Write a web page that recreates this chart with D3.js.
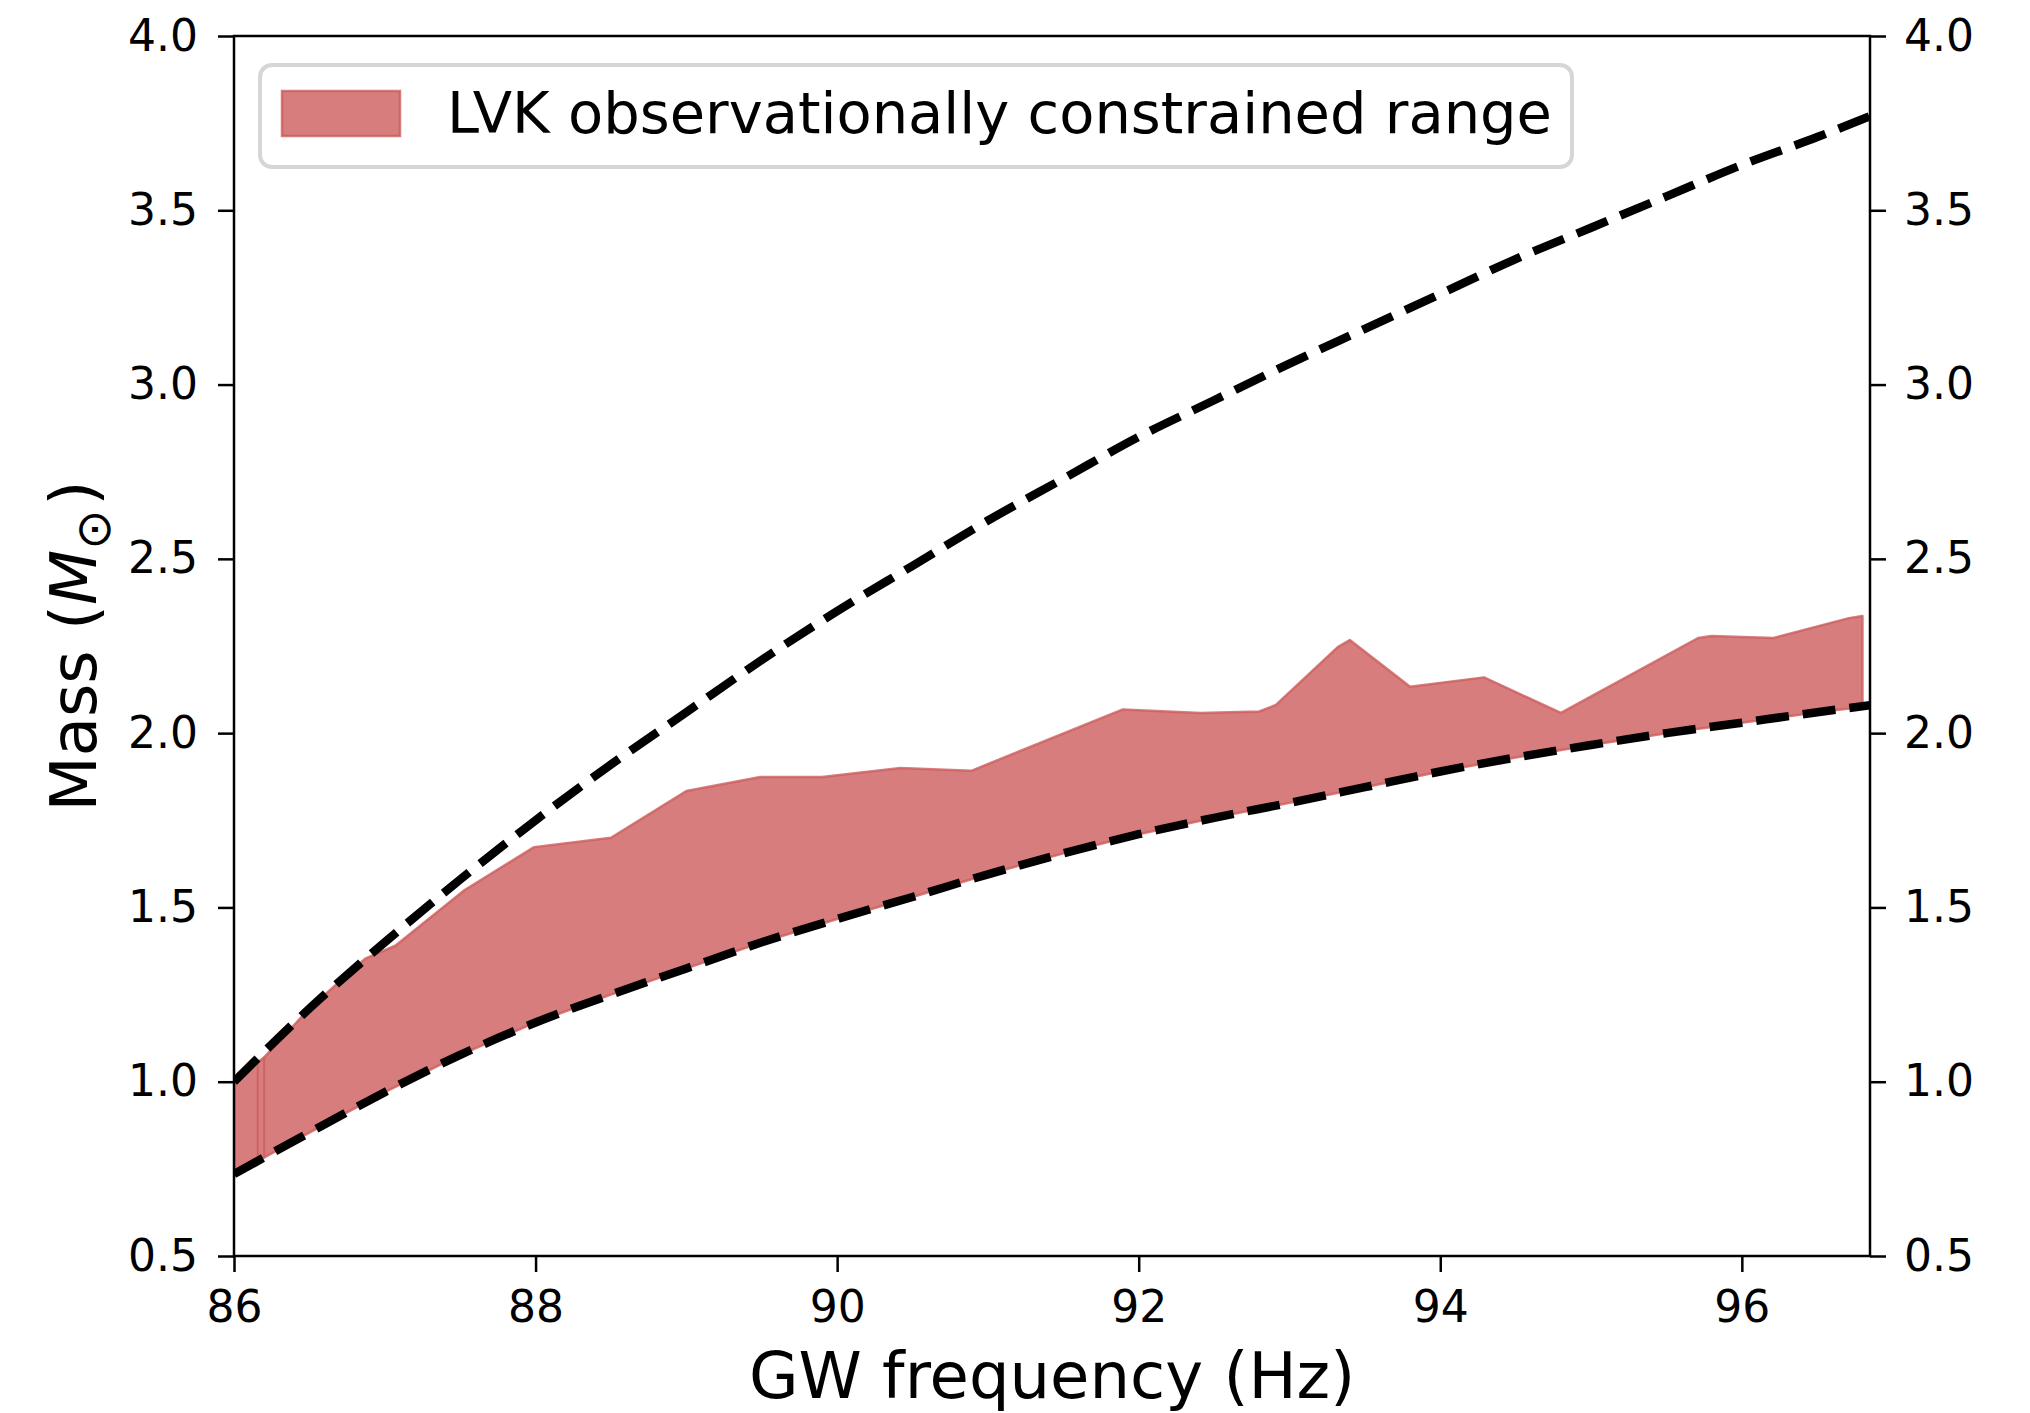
<!DOCTYPE html>
<html>
<head>
<meta charset="utf-8">
<script src="https://cdn.jsdelivr.net/npm/d3@7"></script>
<style>
  body { margin: 0; background: #fff; }
  text { font-family: "DejaVu Sans", sans-serif; fill: #000; }
</style>
</head>
<body>
<div id="chart"></div>
<script>
// axis ticks
const freqTicks = [86, 88, 90, 92, 94, 96];
const massTicks = [0.5, 1.0, 1.5, 2.0, 2.5, 3.0, 3.5, 4.0];

// upper dashed curve
const upperFreq = [86.0, 86.5, 87.0, 87.5, 88.0, 88.5, 89.0, 89.5, 90.0, 90.5, 91.0, 91.5, 92.0, 92.5, 93.0, 93.5, 94.0, 94.5, 95.0, 95.5, 96.0, 96.5, 96.85];
const upperMass = [1.00, 1.21, 1.40, 1.58, 1.75, 1.91, 2.06, 2.21, 2.35, 2.48, 2.61, 2.73, 2.85, 2.955, 3.06, 3.16, 3.26, 3.36, 3.45, 3.54, 3.63, 3.71, 3.77];

// lower dashed curve
const lowerFreq = [86.0, 86.5, 87.0, 87.5, 88.0, 88.5, 89.0, 89.5, 90.0, 90.5, 91.0, 91.5, 92.0, 92.5, 93.0, 93.5, 94.0, 94.5, 95.0, 95.5, 96.0, 96.5, 96.85];
const lowerMass = [0.735, 0.854, 0.97, 1.077, 1.17, 1.25, 1.325, 1.40, 1.467, 1.53, 1.595, 1.655, 1.71, 1.757, 1.80, 1.845, 1.89, 1.93, 1.966, 2.00, 2.03, 2.06, 2.08];

// LVK band, top edge
const bandTopFreq = [86.0, 86.2, 86.5, 86.87, 87.07, 87.53, 87.99, 88.5, 89.0, 89.49, 89.9, 90.42, 90.89, 91.895, 92.41, 92.8, 92.91, 93.32, 93.4, 93.8, 94.29, 94.8, 95.71, 95.8, 96.21, 96.71, 96.8];
const bandTopMass = [1.00, 1.07, 1.21, 1.353, 1.39, 1.55, 1.673, 1.70, 1.834, 1.874, 1.874, 1.90, 1.892, 2.068, 2.058, 2.062, 2.081, 2.247, 2.267, 2.133, 2.160, 2.058, 2.273, 2.279, 2.273, 2.330, 2.336];

// LVK band, bottom edge
const bandBottomFreq = [86.0, 86.5, 87.0, 87.5, 88.0, 88.5, 89.0, 89.5, 90.0, 90.5, 91.0, 91.5, 92.0, 92.5, 93.0, 93.5, 94.0, 94.5, 95.0, 95.5, 96.0, 96.5, 96.8];
const bandBottomMass = [0.735, 0.854, 0.97, 1.077, 1.17, 1.25, 1.325, 1.40, 1.467, 1.53, 1.595, 1.655, 1.71, 1.757, 1.80, 1.845, 1.89, 1.93, 1.966, 2.00, 2.03, 2.06, 2.075];

// seams in the band near the start
const seamFreq = [86.157, 86.2];

const legendLabel = "LVK observationally constrained range";

const width = 2030;
const height = 1413;
const margin = { left: 234, right: 1870, top: 36, bottom: 1256 };

const x = d3.scaleLinear().domain([86, 96.85]).range([margin.left, margin.right]);
const y = d3.scaleLinear().domain([0.5, 4.0]).range([margin.bottom, margin.top]);

const svg = d3.select("#chart")
  .append("svg")
  .attr("width", width)
  .attr("height", height);

svg.append("defs").append("clipPath")
  .attr("id", "plotClip")
  .append("rect")
  .attr("x", margin.left).attr("y", margin.top)
  .attr("width", margin.right - margin.left).attr("height", margin.bottom - margin.top);

const plot = svg.append("g").attr("clip-path", "url(#plotClip)");

const bandColor = "indianred";

// band polygon: top edge forward, bottom edge backward
const bandPts = bandTopFreq.map((f, i) => [f, bandTopMass[i]])
  .concat(bandBottomFreq.map((f, i) => [f, bandBottomMass[i]]).reverse());

plot.append("path")
  .attr("d", d3.line().x(d => x(d[0])).y(d => y(d[1]))(bandPts) + "Z")
  .attr("fill", bandColor)
  .attr("fill-opacity", 0.8)
  .attr("stroke", bandColor)
  .attr("stroke-opacity", 0.8)
  .attr("stroke-width", 2.5)
  .attr("stroke-linejoin", "round");

// thin seams
const interp = (fs, ms, f) => {
  for (let i = 1; i < fs.length; i++) {
    if (f <= fs[i]) {
      const t = (f - fs[i - 1]) / (fs[i] - fs[i - 1]);
      return ms[i - 1] + t * (ms[i] - ms[i - 1]);
    }
  }
  return ms[ms.length - 1];
};
plot.selectAll(".seam")
  .data(seamFreq)
  .enter()
  .append("line")
  .attr("x1", d => x(d)).attr("x2", d => x(d))
  .attr("y1", d => y(interp(bandTopFreq, bandTopMass, d)))
  .attr("y2", d => y(interp(bandBottomFreq, bandBottomMass, d)))
  .attr("stroke", bandColor)
  .attr("stroke-opacity", 0.8)
  .attr("stroke-width", 2);

// dashed curves
const curveLine = d3.line()
  .x(d => x(d[0]))
  .y(d => y(d[1]))
  .curve(d3.curveMonotoneX);

[[upperFreq, upperMass], [lowerFreq, lowerMass]].forEach(([fs, ms]) => {
  plot.append("path")
    .attr("d", curveLine(fs.map((f, i) => [f, ms[i]])))
    .attr("fill", "none")
    .attr("stroke", "#000")
    .attr("stroke-width", 8.5)
    .attr("stroke-dasharray", "33,14")
    .attr("stroke-linecap", "butt");
});

// frame
svg.append("rect")
  .attr("x", margin.left).attr("y", margin.top)
  .attr("width", margin.right - margin.left).attr("height", margin.bottom - margin.top)
  .attr("fill", "none")
  .attr("stroke", "#000")
  .attr("stroke-width", 2.5);

const tickFont = 44;

function styleAxis(g) {
  g.select(".domain").remove();
  g.selectAll(".tick line").attr("stroke", "#000").attr("stroke-width", 2.5);
  g.selectAll(".tick text")
    .attr("fill", "#000")
    .style("font-family", "DejaVu Sans")
    .style("font-size", tickFont + "px");
}

svg.append("g")
  .attr("transform", `translate(0,${margin.bottom})`)
  .call(d3.axisBottom(x).tickValues(freqTicks).tickSize(16).tickSizeOuter(0).tickPadding(19).tickFormat(d3.format("d")))
  .call(styleAxis);

svg.append("g")
  .attr("transform", `translate(${margin.left},0)`)
  .call(d3.axisLeft(y).tickValues(massTicks).tickSize(16).tickSizeOuter(0).tickPadding(20).tickFormat(d3.format(".1f")))
  .call(styleAxis);

svg.append("g")
  .attr("transform", `translate(${margin.right},0)`)
  .call(d3.axisRight(y).tickValues(massTicks).tickSize(16).tickSizeOuter(0).tickPadding(18).tickFormat(d3.format(".1f")))
  .call(styleAxis);

// axis labels
svg.append("text")
  .attr("x", (margin.left + margin.right) / 2)
  .attr("y", 1398)
  .attr("text-anchor", "middle")
  .style("font-size", "64px")
  .text("GW frequency (Hz)");

const ylab = svg.append("text")
  .attr("transform", `translate(96,${(margin.top + margin.bottom) / 2}) rotate(-90)`)
  .attr("text-anchor", "middle")
  .style("font-size", "64px");
ylab.append("tspan").text("Mass (");
ylab.append("tspan").style("font-style", "italic").text("M");
ylab.append("tspan").attr("dy", 14).style("font-size", "48px").text("⊙");
ylab.append("tspan").attr("dy", -14).attr("dx", 4).text(")");

// legend
const legend = svg.append("g");
legend.append("rect")
  .attr("x", 260).attr("y", 65)
  .attr("width", 1312).attr("height", 102)
  .attr("rx", 12)
  .attr("fill", "#fff")
  .attr("fill-opacity", 0.8)
  .attr("stroke", "#d6d6d6")
  .attr("stroke-width", 4);
legend.append("rect")
  .attr("x", 282).attr("y", 91)
  .attr("width", 118).attr("height", 45)
  .attr("fill", bandColor)
  .attr("fill-opacity", 0.8)
  .attr("stroke", bandColor)
  .attr("stroke-opacity", 0.8)
  .attr("stroke-width", 2.5);
legend.append("text")
  .attr("x", 447)
  .attr("y", 133)
  .style("font-size", "57.5px")
  .text(legendLabel);
</script>
</body>
</html>
